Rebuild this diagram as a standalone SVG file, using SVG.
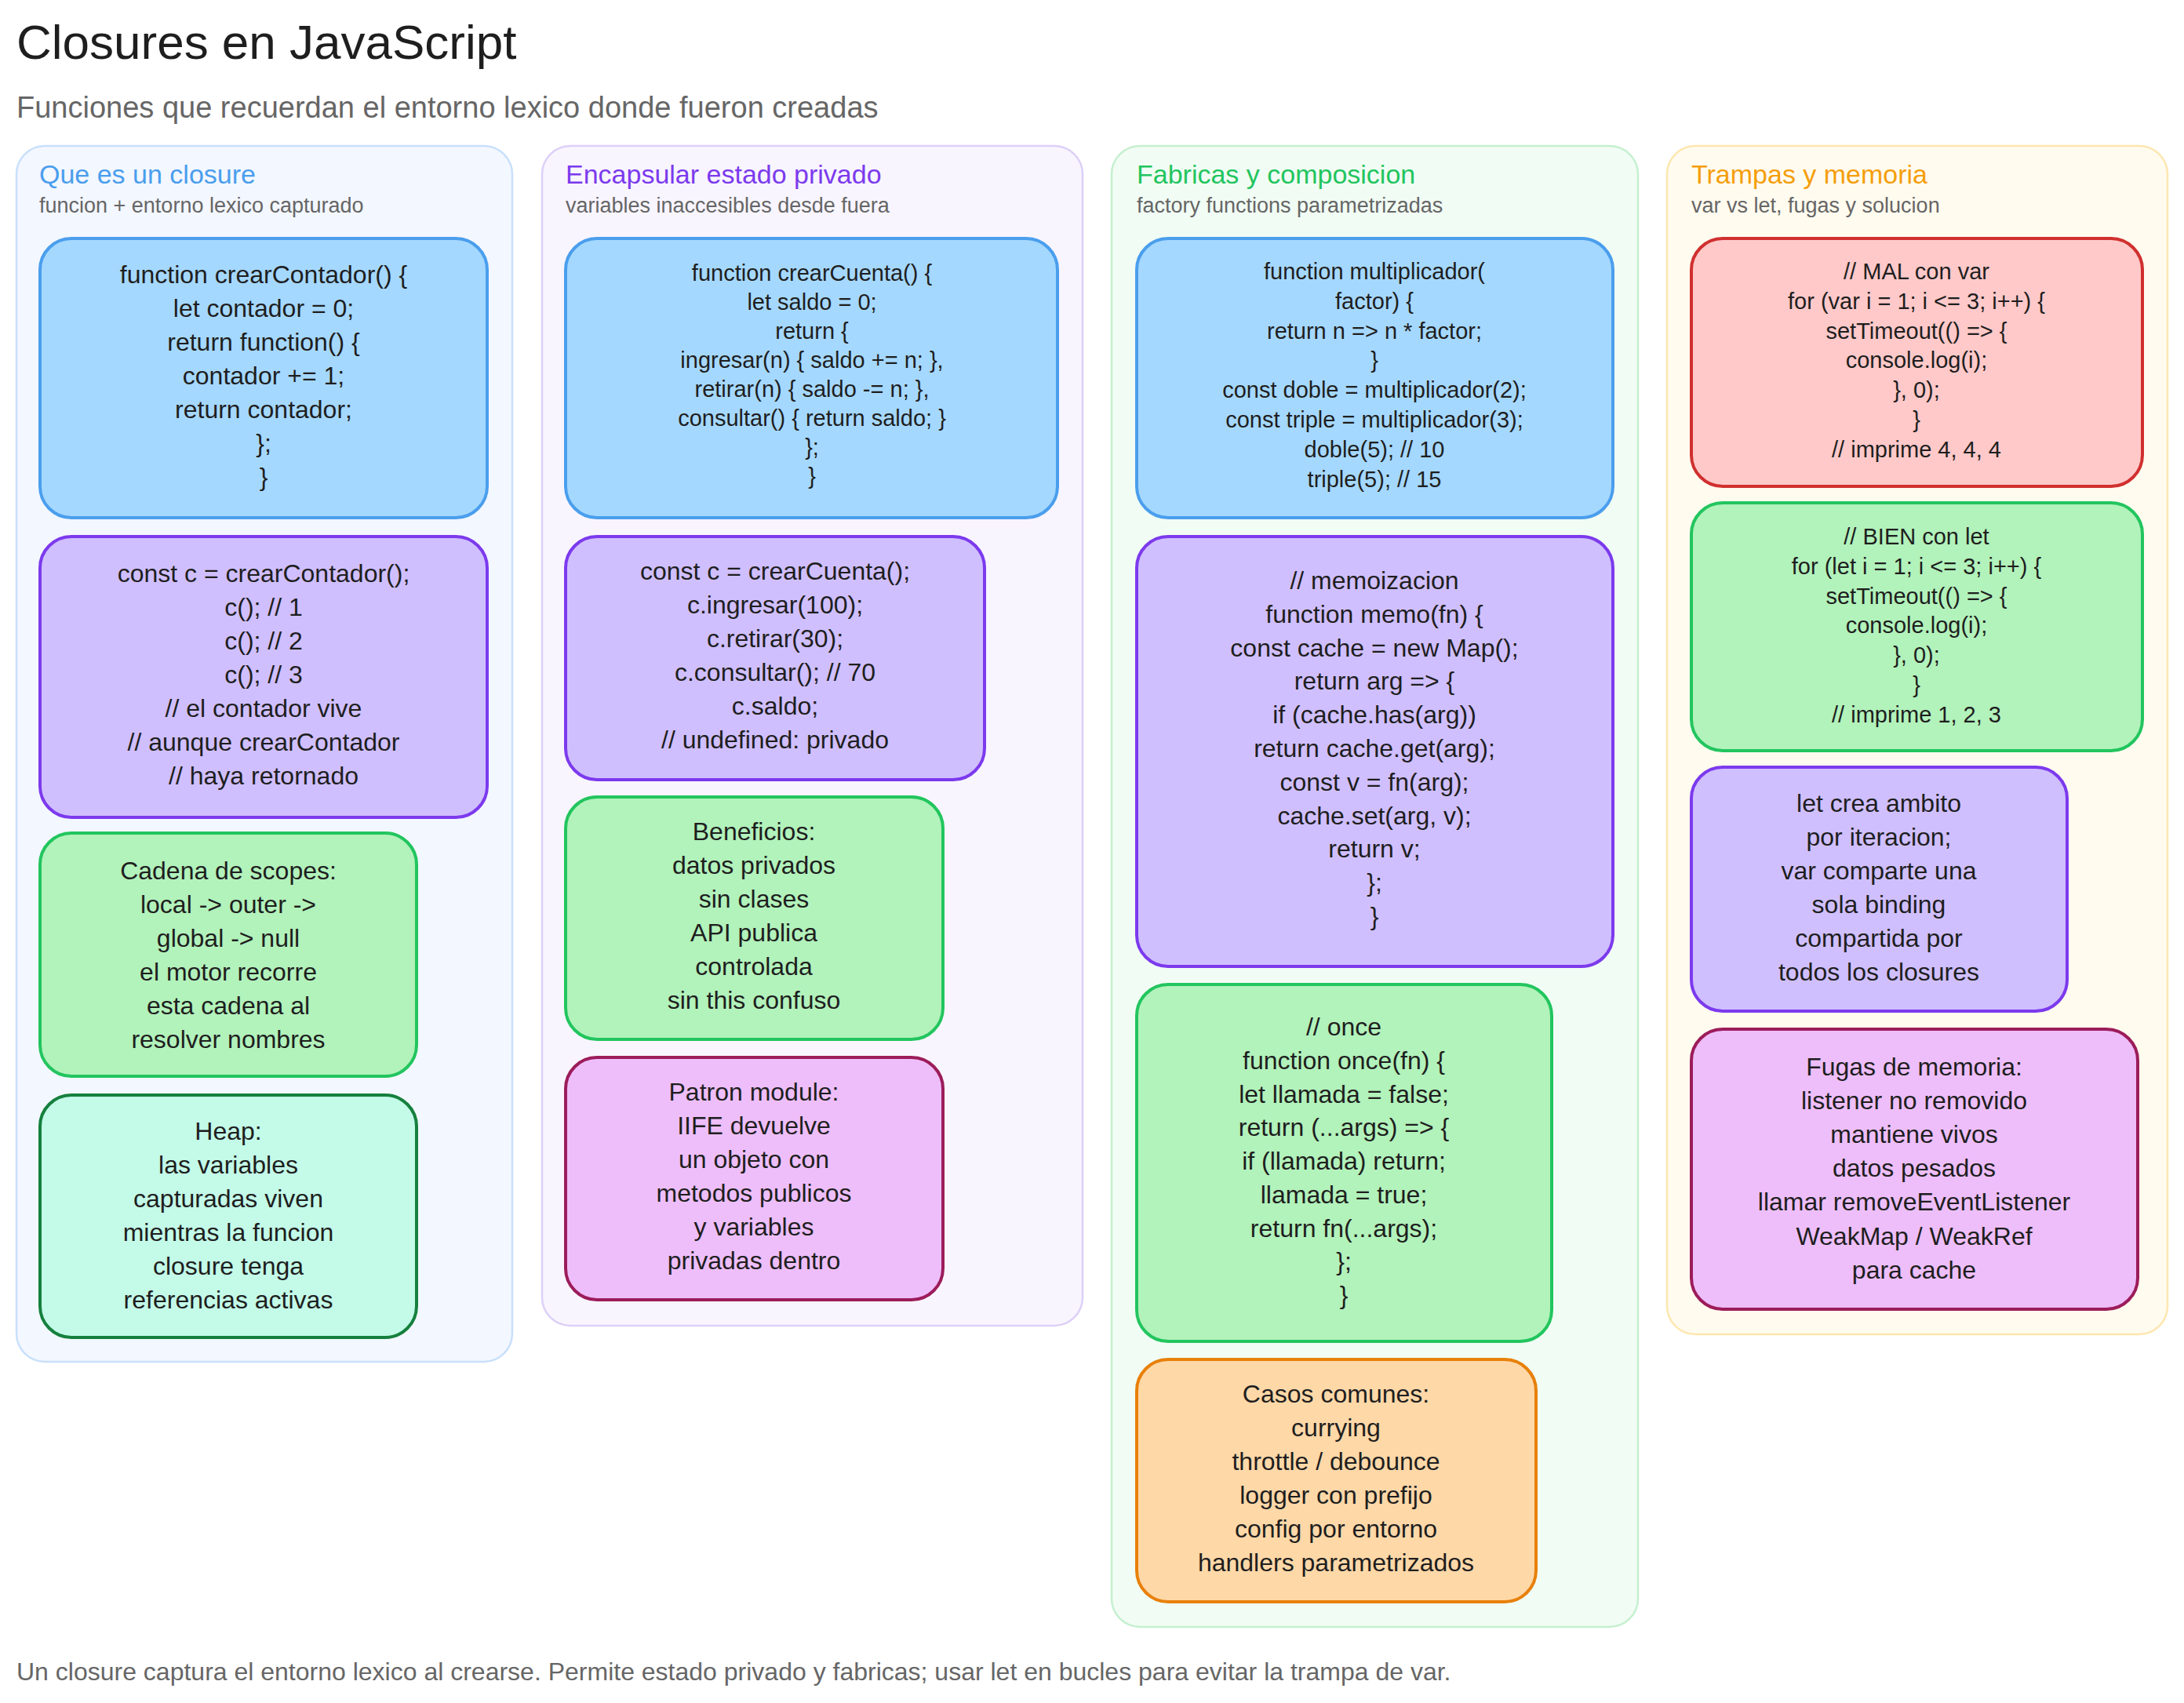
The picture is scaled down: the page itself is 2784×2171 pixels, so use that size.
<svg xmlns="http://www.w3.org/2000/svg" width="2784" height="2171" viewBox="0 0 2784 2171">
<style>
text{font-family:"Liberation Sans",Arial,sans-serif;fill:#1e1e1e}
.t{font-size:62px}
.sub{font-size:38px;fill:#666}
.h{font-size:34px}
.hs{font-size:27px;fill:#666}
.n text{text-anchor:middle;dominant-baseline:central;font-size:32px}
.n.s text{font-size:29px}
.col{stroke-width:2.5}
.box{stroke-width:4}
.blue{fill:#a5d8ff;stroke:#4a9eed}
.purple{fill:#d0bfff;stroke:#7c3aed}
.green{fill:#b2f2bb;stroke:#22c55e}
.teal{fill:#c3fae8;stroke:#15803d}
.pink{fill:#eebefa;stroke:#9c1c5a}
.red{fill:#ffc9c9;stroke:#d0302f}
.orange{fill:#ffd8a8;stroke:#e8800a}
.foot{font-size:32px;fill:#666}
</style>
<rect width="2784" height="2171" fill="#ffffff"/>
<text class="t" x="21" y="75">Closures en JavaScript</text>
<text class="sub" x="21" y="150">Funciones que recuerdan el entorno lexico donde fueron creadas</text>

<g id="col1"><rect class="col" x="21" y="186" width="632" height="1550" rx="36" fill="#f3f7ff" stroke="#c9e0fb"/>
<text class="h" x="50" y="234" style="fill:#4a9eed">Que es un closure</text>
<text class="hs" x="50" y="271">funcion + entorno lexico capturado</text></g>
<g id="col2"><rect class="col" x="691" y="186" width="689" height="1504" rx="36" fill="#f8f5ff" stroke="#ddd0f7"/>
<text class="h" x="721" y="234" style="fill:#7c3aed">Encapsular estado privado</text>
<text class="hs" x="721" y="271">variables inaccesibles desde fuera</text></g>
<g id="col3"><rect class="col" x="1417" y="186" width="671" height="1888" rx="36" fill="#f1fcf4" stroke="#c5f0d0"/>
<text class="h" x="1449" y="234" style="fill:#22c55e">Fabricas y composicion</text>
<text class="hs" x="1449" y="271">factory functions parametrizadas</text></g>
<g id="col4"><rect class="col" x="2125" y="186" width="638" height="1515" rx="36" fill="#fffbef" stroke="#fde7b0"/>
<text class="h" x="2156" y="234" style="fill:#f59e0b">Trampas y memoria</text>
<text class="hs" x="2156" y="271">var vs let, fugas y solucion</text></g>

<g id="connectors"></g>

<g id="a1" class="n"><rect class="box blue" x="51" y="304" width="570" height="356" rx="40"/>
<text x="336" y="350">function crearContador() {</text><text x="336" y="393">let contador = 0;</text><text x="336" y="436">return function() {</text><text x="336" y="479">contador += 1;</text><text x="336" y="522">return contador;</text><text x="336" y="565">};</text><text x="336" y="608">}</text></g>
<g id="a2" class="n"><rect class="box purple" x="51" y="684" width="570" height="358" rx="40"/>
<text x="336" y="731">const c = crearContador();</text><text x="336" y="774">c(); // 1</text><text x="336" y="817">c(); // 2</text><text x="336" y="860">c(); // 3</text><text x="336" y="903">// el contador vive</text><text x="336" y="946">// aunque crearContador</text><text x="336" y="989">// haya retornado</text></g>
<g id="a3" class="n"><rect class="box green" x="51" y="1062" width="480" height="310" rx="40"/>
<text x="291" y="1110">Cadena de scopes:</text><text x="291" y="1153">local -&gt; outer -&gt;</text><text x="291" y="1196">global -&gt; null</text><text x="291" y="1239">el motor recorre</text><text x="291" y="1282">esta cadena al</text><text x="291" y="1325">resolver nombres</text></g>
<g id="a4" class="n"><rect class="box teal" x="51" y="1396" width="480" height="309" rx="40"/>
<text x="291" y="1442">Heap:</text><text x="291" y="1485">las variables</text><text x="291" y="1528">capturadas viven</text><text x="291" y="1571">mientras la funcion</text><text x="291" y="1614">closure tenga</text><text x="291" y="1657">referencias activas</text></g>

<g id="b1" class="n s"><rect class="box blue" x="721" y="304" width="627" height="356" rx="40"/>
<text x="1035" y="348">function crearCuenta() {</text><text x="1035" y="385">let saldo = 0;</text><text x="1035" y="422">return {</text><text x="1035" y="459">ingresar(n) { saldo += n; },</text><text x="1035" y="496">retirar(n)  { saldo -= n; },</text><text x="1035" y="533">consultar() { return saldo; }</text><text x="1035" y="570">};</text><text x="1035" y="607">}</text></g>
<g id="b2" class="n"><rect class="box purple" x="721" y="684" width="534" height="310" rx="40"/>
<text x="988" y="728">const c = crearCuenta();</text><text x="988" y="771">c.ingresar(100);</text><text x="988" y="814">c.retirar(30);</text><text x="988" y="857">c.consultar(); // 70</text><text x="988" y="900">c.saldo;</text><text x="988" y="943">// undefined: privado</text></g>
<g id="b3" class="n"><rect class="box green" x="721" y="1016" width="481" height="309" rx="40"/>
<text x="961" y="1060">Beneficios:</text><text x="961" y="1103">datos privados</text><text x="961" y="1146">sin clases</text><text x="961" y="1189">API publica</text><text x="961" y="1232">controlada</text><text x="961" y="1275">sin this confuso</text></g>
<g id="b4" class="n"><rect class="box pink" x="721" y="1348" width="481" height="309" rx="40"/>
<text x="961" y="1392">Patron module:</text><text x="961" y="1435">IIFE devuelve</text><text x="961" y="1478">un objeto con</text><text x="961" y="1521">metodos publicos</text><text x="961" y="1564">y variables</text><text x="961" y="1607">privadas dentro</text></g>

<g id="c1" class="n s"><rect class="box blue" x="1449" y="304" width="607" height="356" rx="40"/>
<text x="1752" y="346">function multiplicador(</text><text x="1752" y="384">factor) {</text><text x="1752" y="422">return n =&gt; n * factor;</text><text x="1752" y="459">}</text><text x="1752" y="497">const doble = multiplicador(2);</text><text x="1752" y="535">const triple = multiplicador(3);</text><text x="1752" y="573">doble(5);  // 10</text><text x="1752" y="611">triple(5); // 15</text></g>
<g id="c2" class="n"><rect class="box purple" x="1449" y="684" width="607" height="548" rx="40"/>
<text x="1752" y="740">// memoizacion</text><text x="1752" y="783">function memo(fn) {</text><text x="1752" y="826">const cache = new Map();</text><text x="1752" y="868">return arg =&gt; {</text><text x="1752" y="911">if (cache.has(arg))</text><text x="1752" y="954">return cache.get(arg);</text><text x="1752" y="997">const v = fn(arg);</text><text x="1752" y="1040">cache.set(arg, v);</text><text x="1752" y="1082">return v;</text><text x="1752" y="1125">};</text><text x="1752" y="1168">}</text></g>
<g id="c3" class="n"><rect class="box green" x="1449" y="1255" width="529" height="455" rx="40"/>
<text x="1713" y="1309">// once</text><text x="1713" y="1352">function once(fn) {</text><text x="1713" y="1395">let llamada = false;</text><text x="1713" y="1437">return (...args) =&gt; {</text><text x="1713" y="1480">if (llamada) return;</text><text x="1713" y="1523">llamada = true;</text><text x="1713" y="1566">return fn(...args);</text><text x="1713" y="1608">};</text><text x="1713" y="1651">}</text></g>
<g id="c4" class="n"><rect class="box orange" x="1449" y="1733" width="509" height="309" rx="40"/>
<text x="1703" y="1777">Casos comunes:</text><text x="1703" y="1820">currying</text><text x="1703" y="1863">throttle / debounce</text><text x="1703" y="1906">logger con prefijo</text><text x="1703" y="1949">config por entorno</text><text x="1703" y="1992">handlers parametrizados</text></g>

<g id="d1" class="n s"><rect class="box red" x="2156" y="304" width="575" height="316" rx="40"/>
<text x="2443" y="346">// MAL con var</text><text x="2443" y="384">for (var i = 1; i &lt;= 3; i++) {</text><text x="2443" y="422">setTimeout(() =&gt; {</text><text x="2443" y="459">console.log(i);</text><text x="2443" y="497">}, 0);</text><text x="2443" y="535">}</text><text x="2443" y="573">// imprime 4, 4, 4</text></g>
<g id="d2" class="n s"><rect class="box green" x="2156" y="641" width="575" height="316" rx="40"/>
<text x="2443" y="684">// BIEN con let</text><text x="2443" y="722">for (let i = 1; i &lt;= 3; i++) {</text><text x="2443" y="760">setTimeout(() =&gt; {</text><text x="2443" y="797">console.log(i);</text><text x="2443" y="835">}, 0);</text><text x="2443" y="873">}</text><text x="2443" y="911">// imprime 1, 2, 3</text></g>
<g id="d3" class="n"><rect class="box purple" x="2156" y="978" width="479" height="311" rx="40"/>
<text x="2395" y="1024">let crea ambito</text><text x="2395" y="1067">por iteracion;</text><text x="2395" y="1110">var comparte una</text><text x="2395" y="1153">sola binding</text><text x="2395" y="1196">compartida por</text><text x="2395" y="1239">todos los closures</text></g>
<g id="d4" class="n"><rect class="box pink" x="2156" y="1312" width="569" height="357" rx="40"/>
<text x="2440" y="1360">Fugas de memoria:</text><text x="2440" y="1403">listener no removido</text><text x="2440" y="1446">mantiene vivos</text><text x="2440" y="1489">datos pesados</text><text x="2440" y="1532">llamar removeEventListener</text><text x="2440" y="1576">WeakMap / WeakRef</text><text x="2440" y="1619">para cache</text></g>

<text class="foot" x="21" y="2142">Un closure captura el entorno lexico al crearse. Permite estado privado y fabricas; usar let en bucles para evitar la trampa de var.</text>
</svg>
